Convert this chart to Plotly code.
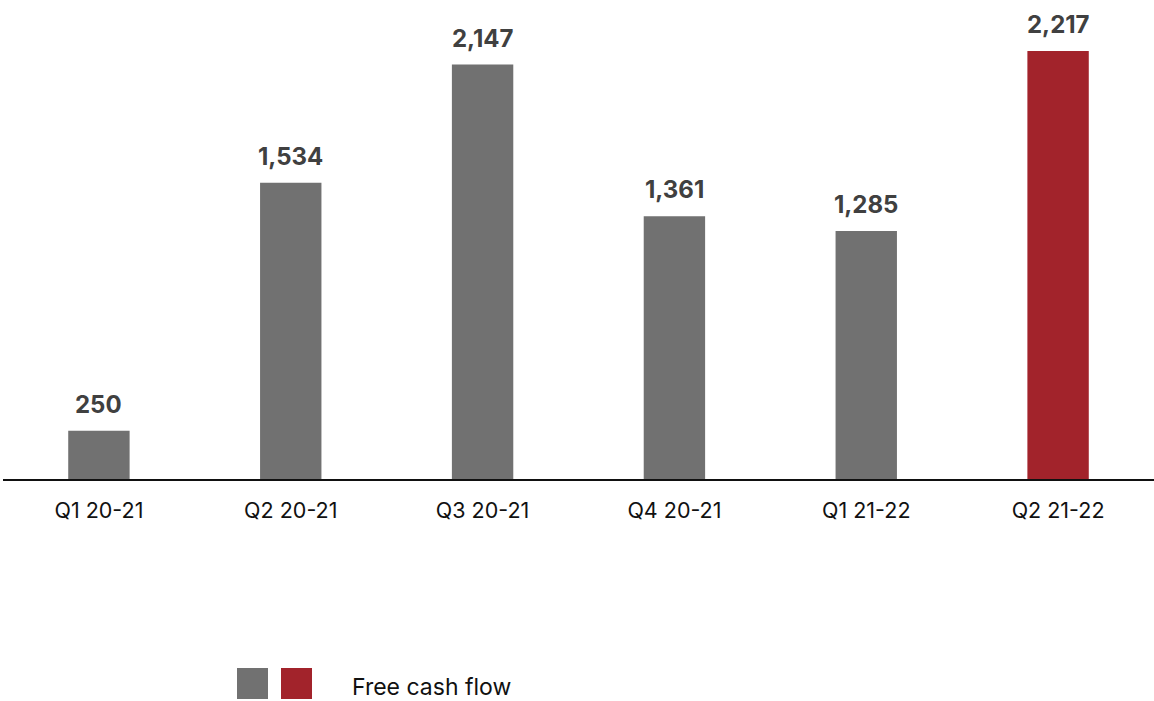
import plotly.graph_objects as go

# Free cash flow by quarter
quarters = ["Q1 20-21", "Q2 20-21", "Q3 20-21", "Q4 20-21", "Q1 21-22", "Q2 21-22"]
free_cash_flow = [250, 1534, 2147, 1361, 1285, 2217]
bar_colors = ["#717171", "#717171", "#717171", "#717171", "#717171", "#A2232B"]

FONT = "Inter"

fig = go.Figure()
fig.add_trace(go.Bar(
    x=quarters,
    y=free_cash_flow,
    marker=dict(color=bar_colors, line=dict(width=0)),
    width=0.32,
    showlegend=False,
    hoverinfo="x+y",
))

# value labels above each bar
for q, v in zip(quarters, free_cash_flow):
    fig.add_annotation(
        x=q, y=v, text=f"<b>{v:,}</b>", showarrow=False,
        yanchor="bottom", yshift=10,
        font=dict(family=FONT, size=24, color="#404040"),
    )

# legend: two swatches and a caption
fig.add_shape(type="rect", xref="paper", yref="paper",
              x0=(237 - 3) / 1151, x1=(268 - 3) / 1151,
              y0=(479 - 668) / 444, y1=(479 - 699) / 444,
              fillcolor="#717171", line=dict(width=0))
fig.add_shape(type="rect", xref="paper", yref="paper",
              x0=(281 - 3) / 1151, x1=(312 - 3) / 1151,
              y0=(479 - 668) / 444, y1=(479 - 699) / 444,
              fillcolor="#A2232B", line=dict(width=0))
fig.add_annotation(xref="paper", yref="paper",
                   x=(350 - 3) / 1151, y=(479 - 687) / 444,
                   xanchor="left", yanchor="middle", showarrow=False,
                   text="Free cash flow",
                   font=dict(family=FONT, size=23, color="#111111"))

fig.update_layout(
    width=1154, height=701,
    margin=dict(l=3, r=0, t=35, b=222),
    plot_bgcolor="white", paper_bgcolor="white",
    bargap=0.68,
    xaxis=dict(
        showline=True, linecolor="#111111", linewidth=1.5,
        showgrid=False, ticks="", ticklabelstandoff=11,
        tickfont=dict(family=FONT, size=21.5, color="#111111"),
        fixedrange=True,
    ),
    yaxis=dict(range=[0, 2300], visible=False, showgrid=False, fixedrange=True),
    font=dict(family=FONT),
)

fig.write_html("out.html")
